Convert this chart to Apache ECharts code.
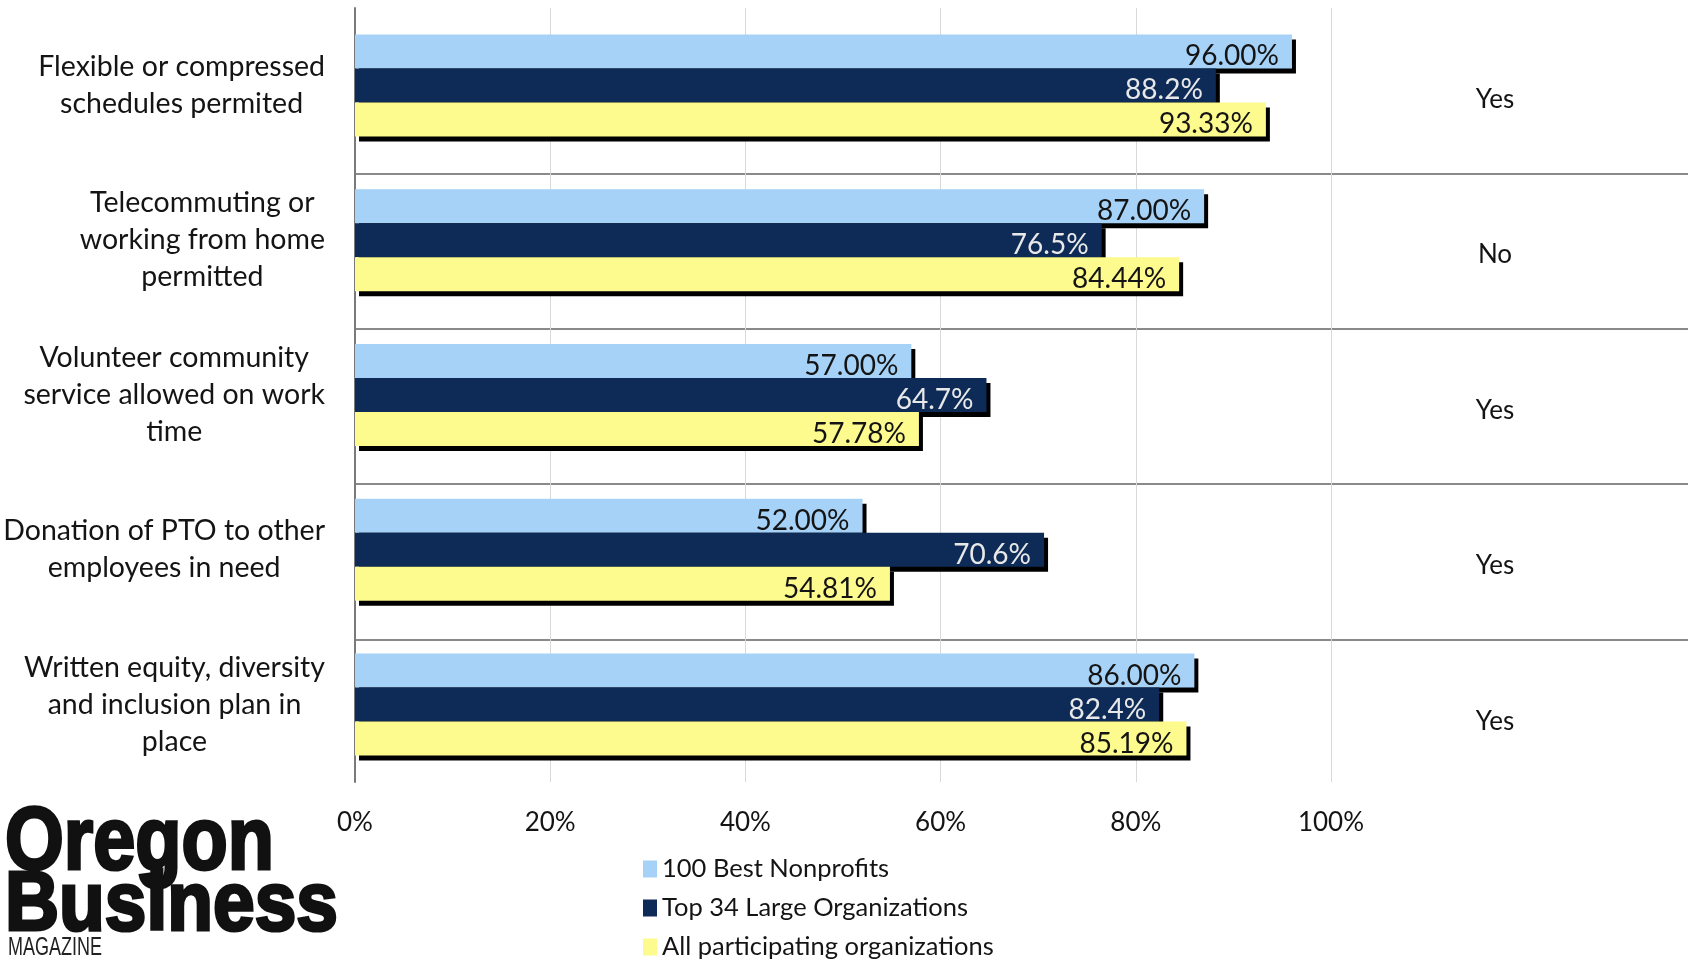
<!DOCTYPE html>
<html>
<head>
<meta charset="utf-8">
<script src="https://cdn.jsdelivr.net/npm/echarts@6/dist/echarts.min.js"></script>
<style>
  html, body { margin: 0; padding: 0; background: #ffffff; }
  #chart { width: 1688px; height: 963px; }
</style>
</head>
<body>
<div id="chart"></div>
<script>
// Workplace policies by survey group
const categories = [
  'Flexible or compressed\nschedules permited',
  'Telecommuting or\nworking from home\npermitted',
  'Volunteer community\nservice allowed on work\ntime',
  'Donation of PTO to other\nemployees in need',
  'Written equity, diversity\nand inclusion plan in\nplace'
];
const seriesNames = ['100 Best Nonprofits', 'Top 34 Large Organizations', 'All participating organizations'];
const bestNonprofits = [96.00, 87.00, 57.00, 52.00, 86.00];
const largeOrgs = [88.2, 76.5, 64.7, 70.6, 82.4];
const allOrgs = [93.33, 84.44, 57.78, 54.81, 85.19];
const answers = ['Yes', 'No', 'Yes', 'Yes', 'Yes'];
const xTicks = [0, 20, 40, 60, 80, 100];

const FONT = 'Lato';
const INK = '#141414';

const chart = echarts.init(document.getElementById('chart'), null, { renderer: 'canvas' });

function barSeries(name, data, color, labelColor, decimals) {
  return {
    name: name,
    type: 'bar',
    xAxisIndex: 0,
    yAxisIndex: 0,
    data: data,
    barWidth: 34,
    barGap: '0%',
    itemStyle: {
      color: color,
      shadowColor: '#000000',
      shadowBlur: 0,
      shadowOffsetX: 4,
      shadowOffsetY: 5
    },
    label: {
      show: true,
      position: 'insideRight',
      distance: 13,
      offset: [0, 5],
      fontFamily: FONT,
      fontSize: 28,
      color: labelColor,
      formatter: p => p.value.toFixed(decimals) + '%'
    },
    emphasis: { disabled: true },
    animation: false
  };
}

chart.setOption({
  backgroundColor: '#ffffff',
  animation: false,
  textStyle: { fontFamily: FONT },
  grid: [
    { left: 355, top: 8, width: 976, height: 774 },
    { left: 355, top: 18, right: 0, height: 777 }
  ],
  legend: {
    orient: 'vertical',
    left: 643,
    top: 856,
    padding: 0,
    height: 110,
    itemWidth: 14,
    itemHeight: 17,
    itemGap: 13,
    icon: 'rect',
    selectedMode: false,
    data: seriesNames,
    textStyle: { fontFamily: FONT, fontSize: 25.5, color: INK }
  },
  xAxis: [
    {
      gridIndex: 0,
      type: 'value',
      min: xTicks[0],
      max: xTicks[xTicks.length - 1],
      interval: 20,
      axisLine: { show: false },
      axisTick: { show: false },
      splitLine: { show: true, lineStyle: { color: '#d9d9d9', width: 1 } },
      axisLabel: {
        margin: 28,
        fontFamily: FONT,
        fontSize: 26,
        color: INK,
        formatter: '{value}%'
      }
    },
    { gridIndex: 1, type: 'value', show: false, min: 0, max: 1 }
  ],
  yAxis: [
    {
      gridIndex: 0,
      type: 'category',
      data: categories,
      inverse: true,
      axisLine: { show: true, lineStyle: { color: '#7a7a7a', width: 2 } },
      axisTick: { show: false },
      splitLine: { show: false },
      axisLabel: {
        margin: 30,
        align: 'right',
        formatter: v => v.split('\n').map(l => '{c|' + l + '}').join('\n'),
        rich: {
          c: { align: 'center', fontFamily: FONT, fontSize: 28.5, lineHeight: 37, color: INK }
        }
      }
    },
    {
      // table column with Yes / No answers and row separators
      gridIndex: 1,
      type: 'category',
      data: categories,
      inverse: true,
      position: 'right',
      axisLine: { show: false },
      axisTick: { show: false },
      splitLine: {
        show: true,
        showMinLine: false,
        showMaxLine: false,
        lineStyle: { color: '#8a8a8a', width: 2 }
      },
      axisLabel: {
        inside: true,
        margin: 193,
        align: 'center',
        formatter: (v, i) => '{a|' + answers[i] + '}',
        rich: {
          a: { fontFamily: FONT, fontSize: 26, color: INK, padding: [8, 0, 0, 0] }
        }
      }
    }
  ],
  series: [
    barSeries(seriesNames[0], bestNonprofits, '#a6d2f7', INK, 2),
    barSeries(seriesNames[1], largeOrgs, '#0e2b57', '#e8e8e8', 1),
    barSeries(seriesNames[2], allOrgs, '#fdfa8e', INK, 2)
  ],
  graphic: [
    {
      type: 'text', x: 5, y: 845,
      scaleX: 0.9,
      scaleY: 1.05,
      style: {
        text: 'Oregon', fontFamily: 'Liberation Sans', fontWeight: 'bold', fontSize: 84,
        fill: '#111111', stroke: '#111111', lineWidth: 3,
        align: 'left', verticalAlign: 'middle'
      }
    },
    {
      type: 'text', x: 5, y: 907,
      scaleX: 0.96,
      scaleY: 1.07,
      style: {
        text: 'Business', fontFamily: 'Liberation Sans', fontWeight: 'bold', fontSize: 78,
        fill: '#111111', stroke: '#111111', lineWidth: 3,
        align: 'left', verticalAlign: 'middle'
      }
    },
    {
      type: 'text', x: 8, y: 948,
      scaleX: 0.72,
      style: {
        text: 'MAGAZINE', fontFamily: 'Liberation Sans', fontSize: 25,
        fill: '#222222', align: 'left', verticalAlign: 'middle'
      }
    }
  ]
});
</script>
</body>
</html>
